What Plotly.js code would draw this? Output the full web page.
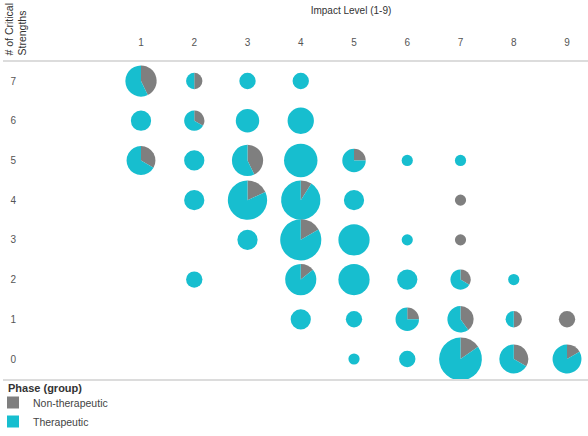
<!DOCTYPE html>
<html>
<head>
<meta charset="utf-8">
<script src="https://cdn.plot.ly/plotly-3.0.1.min.js"></script>
<style>html,body{margin:0;padding:0;background:#fff;}#chart{width:588px;height:436px;}</style>
</head>
<body>
<div id="chart"></div>
<script>
// ---- data ----
const impactLevels = [1, 2, 3, 4, 5, 6, 7, 8, 9];
const strengthLevels = [0, 1, 2, 3, 4, 5, 6, 7];
const impact =         [1,2,3,4, 1,2,3,4, 1,2,3,4,5,6,7, 2,3,4,5,7, 3,4,5,6,7, 2,4,5,6,7,8, 4,5,6,7,8,9, 5,6,7,8,9];
const strengths =      [7,7,7,7, 6,6,6,6, 5,5,5,5,5,5,5, 4,4,4,4,4, 3,3,3,3,3, 2,2,2,2,2,2, 1,1,1,1,1,1, 0,0,0,0,0];
const nonTherapeutic = [3,1,0,0, 0,1,0,0, 2,0,3,0,1,0,0, 0,2,1,0,1, 0,2,0,0,1, 0,1,0,0,1,0, 0,0,1,2,1,2, 0,0,2,2,1];
const therapeutic =    [4,1,2,2, 3,2,4,5, 4,3,4,8,3,1,1, 3,9,10,3,0, 3,10,7,1,0, 2,6,7,3,2,1, 3,2,3,3,1,0, 1,2,11,4,5];
const phaseLabels = ['Non-therapeutic', 'Therapeutic'];
const phaseColors = ['#7f7f7f', '#17becf'];

// ---- layout geometry ----
const W = 588, H = 436;
const M = {l: 114, r: 0, t: 61, b: 50};
const PW = W - M.l - M.r, PH = H - M.t - M.b;
const xRange = [0.493, 9.394];
const yRange = [-0.680, 7.504];
const py = px => (H - M.b - px) / PH;   // pixel row -> paper fraction
const pxf = px => (px - M.l) / PW;      // pixel column -> paper fraction

function diameter(n) { return 0.86 * Math.sqrt(192 * n - 23); }

const traces = [];
// invisible cartesian trace so the axes are drawn
traces.push({
  type: 'scatter', mode: 'markers', x: impact, y: strengths,
  marker: {opacity: 0}, hoverinfo: 'skip', showlegend: false
});

for (let i = 0; i < impact.length; i++) {
  const total = nonTherapeutic[i] + therapeutic[i];
  const r = diameter(total) / 2;
  const xf = (impact[i] - xRange[0]) / (xRange[1] - xRange[0]);
  const yf = (strengths[i] - yRange[0]) / (yRange[1] - yRange[0]);
  const dx = r / PW, dy = r / PH;
  traces.push({
    type: 'pie',
    labels: phaseLabels,
    values: [nonTherapeutic[i], therapeutic[i]],
    marker: {colors: phaseColors, line: {width: 0}},
    sort: false, direction: 'clockwise', rotation: 0,
    textinfo: 'none', hoverinfo: 'label+value',
    domain: {x: [Math.max(0, xf - dx), Math.min(1, xf + dx)], y: [Math.max(0, yf - dy), Math.min(1, yf + dy)]},
    showlegend: i === 0
  });
}

const layout = {
  width: W, height: H,
  margin: M,
  paper_bgcolor: '#fff', plot_bgcolor: '#fff',
  font: {family: 'Liberation Sans, Arial, sans-serif', size: 10, color: '#555'},
  xaxis: {
    range: xRange, side: 'top', tickvals: impactLevels, ticktext: impactLevels.map(String),
    showgrid: false, zeroline: false, showline: false, ticks: '',
    tickfont: {size: 10, color: '#555'}, ticklabelstandoff: 12,
    title: {text: 'Impact Level (1-9)', font: {size: 10, color: '#333'}, standoff: 20},
    fixedrange: true
  },
  yaxis: {
    range: yRange, tickvals: strengthLevels, ticktext: strengthLevels.map(String),
    showgrid: false, zeroline: false, showline: false, ticks: '',
    tickfont: {size: 10, color: '#555'}, ticklabelstandoff: 97,
    fixedrange: true
  },
  shapes: [
    {type: 'line', xref: 'paper', yref: 'paper', x0: pxf(3), x1: 1, y0: 1, y1: 1, line: {color: '#dcdcdc', width: 2}},
    {type: 'line', xref: 'paper', yref: 'paper', x0: pxf(3), x1: 1, y0: py(380), y1: py(380), line: {color: '#dcdcdc', width: 2}}
  ],
  annotations: [{
    xref: 'paper', yref: 'paper', x: pxf(15), y: py(58),
    xanchor: 'center', yanchor: 'bottom', textangle: -90, align: 'left',
    text: '# of Critical<br>Strengths', showarrow: false,
    font: {size: 10.5, color: '#333'}
  }, {
    xref: 'paper', yref: 'paper', x: pxf(6), y: py(388),
    xanchor: 'left', yanchor: 'middle', align: 'left',
    text: '<b>Phase (group)</b>', showarrow: false,
    font: {size: 11, color: '#333'}
  }],
  legend: {
    x: pxf(5), xanchor: 'left', y: py(436), yanchor: 'bottom',
    orientation: 'v', traceorder: 'normal', indentation: -12,
    font: {size: 10.5, color: '#444'}, itemwidth: 30, tracegroupgap: 0,
    bgcolor: 'rgba(0,0,0,0)'
  },
  showlegend: true,
  hovermode: 'closest'
};

Plotly.newPlot('chart', traces, layout, {displayModeBar: false});
</script>
</body>
</html>
